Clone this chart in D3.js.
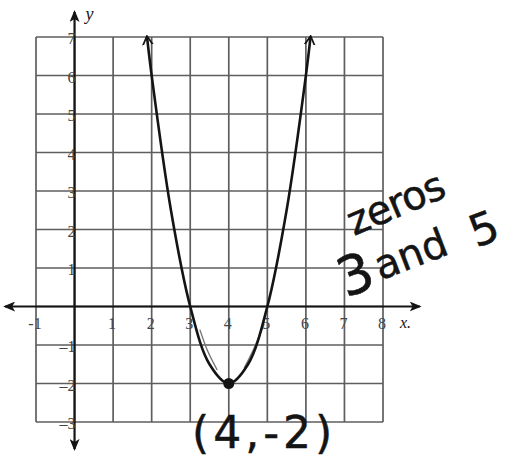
<!DOCTYPE html>
<html>
<head>
<meta charset="utf-8">
<script src="https://cdn.jsdelivr.net/npm/d3@7/dist/d3.min.js"></script>
<style>
  html, body { margin: 0; padding: 0; background: #fff; }
  svg { display: block; }
</style>
</head>
<body>
<svg id="chart" width="506" height="459"></svg>
<script>
// Grid extents and tick labels
const xTicks = [-1, 1, 2, 3, 4, 5, 6, 7, 8];
const yTicks = [-3, -2, -1, 1, 2, 3, 4, 5, 6, 7];
const gridX = [-1, 0, 1, 2, 3, 4, 5, 6, 7, 8];
const gridY = [-3, -2, -1, 0, 1, 2, 3, 4, 5, 6, 7];

// Points on the plotted parabola
const curveX = [1.88, 2, 2.5, 3, 3.5, 4, 4.5, 5, 5.5, 6, 6.12];
const curveY = [7, 6, 2.5, 0, -1.5, -2, -1.5, 0, 2.5, 6, 7];

// Faint pencil traces beside the curve near the vertex
const traceLeftX = [3.25, 3.45, 3.7];
const traceLeftY = [-0.6, -1.15, -1.65];
const traceRightX = [4.4, 4.65, 4.92];
const traceRightY = [-1.6, -1.1, -0.45];

// Marked vertex and annotations
const vertex = { x: 4, y: -2 };
const noteZeros = "zeros";
const noteThree = "3";
const noteAnd = "and";
const noteFive = "5";
const noteVertex = "(4,-2)";

const svg = d3.select("#chart");
const x = d3.scaleLinear().domain([-1, 8]).range([36, 383]);
const y = d3.scaleLinear().domain([-3, 7]).range([422, 37]);

const gridColor = "#5e5e5e";
const ink = "#141414";

// Arrow markers
const defs = svg.append("defs");
defs.append("marker")
  .attr("id", "axisArrow")
  .attr("viewBox", "0 0 12 10")
  .attr("refX", 10).attr("refY", 5)
  .attr("markerWidth", 12).attr("markerHeight", 10)
  .attr("markerUnits", "userSpaceOnUse")
  .attr("orient", "auto-start-reverse")
  .append("path")
  .attr("d", "M0,0 L12,5 L0,10 L3,5 Z")
  .attr("fill", ink);
defs.append("marker")
  .attr("id", "curveArrow")
  .attr("viewBox", "0 0 10 12")
  .attr("refX", 8).attr("refY", 6)
  .attr("markerWidth", 10).attr("markerHeight", 12)
  .attr("markerUnits", "userSpaceOnUse")
  .attr("orient", "auto-start-reverse")
  .append("path")
  .attr("d", "M0,1 L9,6 L0,11")
  .attr("fill", "none")
  .attr("stroke", ink)
  .attr("stroke-width", 1.8);

// Grid
const grid = svg.append("g").attr("stroke", gridColor).attr("stroke-width", 1.7);
grid.selectAll("line.v").data(gridX).join("line")
  .attr("class", "v")
  .attr("x1", d => x(d)).attr("x2", d => x(d))
  .attr("y1", y(7)).attr("y2", y(-3));
grid.selectAll("line.h").data(gridY).join("line")
  .attr("class", "h")
  .attr("x1", x(-1)).attr("x2", x(8))
  .attr("y1", d => y(d)).attr("y2", d => y(d));

// Axes with arrows at both ends
svg.append("line")
  .attr("x1", x(-1.8)).attr("x2", x(8.95))
  .attr("y1", y(0)).attr("y2", y(0))
  .attr("stroke", ink).attr("stroke-width", 2.2)
  .attr("marker-start", "url(#axisArrow)")
  .attr("marker-end", "url(#axisArrow)");
svg.append("line")
  .attr("x1", x(0)).attr("x2", x(0))
  .attr("y1", y(-3.7)).attr("y2", y(7.65))
  .attr("stroke", ink).attr("stroke-width", 2.2)
  .attr("marker-start", "url(#axisArrow)")
  .attr("marker-end", "url(#axisArrow)");

// Tick labels
const labelFont = "'Liberation Serif', 'DejaVu Serif', serif";
svg.append("g").selectAll("text").data(xTicks).join("text")
  .attr("x", d => x(d) - 1)
  .attr("y", y(0) + 22)
  .attr("text-anchor", "middle")
  .attr("font-family", labelFont)
  .attr("font-size", 16)
  .attr("fill", "#444")
  .text(d => d < 0 ? "-" + Math.abs(d) : d);
svg.append("g").selectAll("text").data(yTicks).join("text")
  .attr("x", x(0) + 1)
  .attr("y", d => y(d) + 7)
  .attr("text-anchor", "end")
  .attr("font-family", labelFont)
  .attr("font-size", 16)
  .attr("fill", "#444")
  .text(d => d < 0 ? "\u2013" + Math.abs(d) : d);

// Axis names
svg.append("text")
  .attr("x", x(0) + 11).attr("y", y(7.45))
  .attr("font-family", labelFont).attr("font-style", "italic")
  .attr("font-size", 18).attr("fill", ink)
  .text("y");
svg.append("text")
  .attr("x", x(8) + 17).attr("y", y(-0.55))
  .attr("font-family", labelFont).attr("font-style", "italic")
  .attr("font-size", 16).attr("fill", ink)
  .text("x.");

// Pencil traces
const line = d3.line().x(d => x(d[0])).y(d => y(d[1])).curve(d3.curveCatmullRom.alpha(0.5));
svg.append("path")
  .datum(d3.zip(traceLeftX, traceLeftY))
  .attr("d", line)
  .attr("fill", "none").attr("stroke", "#777").attr("stroke-width", 1.4);
svg.append("path")
  .datum(d3.zip(traceRightX, traceRightY))
  .attr("d", line)
  .attr("fill", "none").attr("stroke", "#777").attr("stroke-width", 1.4);

// Parabola
svg.append("path")
  .datum(d3.zip(curveX, curveY))
  .attr("d", line)
  .attr("fill", "none")
  .attr("stroke", ink)
  .attr("stroke-width", 2.6)
  .attr("marker-start", "url(#curveArrow)")
  .attr("marker-end", "url(#curveArrow)");

// Vertex point
svg.append("circle")
  .attr("cx", x(vertex.x)).attr("cy", y(vertex.y))
  .attr("r", 5.5).attr("fill", ink);

// Handwritten notes
const handFont = "'DejaVu Sans', sans-serif";
const hand = svg.append("g")
  .attr("font-family", handFont)
  .attr("font-weight", "normal")
  .attr("fill", ink)
  .attr("stroke", ink)
  .attr("stroke-width", 0.5);

hand.append("text")
  .attr("transform", "translate(354,236) rotate(-23)")
  .attr("font-size", 40)
  .attr("letter-spacing", -1)
  .text(noteZeros);

const zeroLine = hand.append("text")
  .attr("transform", "translate(346,298) rotate(-21)");
zeroLine.append("tspan").attr("font-size", 54).text(noteThree);
zeroLine.append("tspan").attr("font-size", 40).attr("dx", 4).attr("dy", -4).text(noteAnd);
zeroLine.append("tspan").attr("font-size", 44).attr("dx", 26).attr("dy", 4).text(noteFive);

hand.append("text")
  .attr("x", 192).attr("y", 448)
  .attr("font-size", 44)
  .attr("letter-spacing", 4)
  .text(noteVertex);
</script>
</body>
</html>
